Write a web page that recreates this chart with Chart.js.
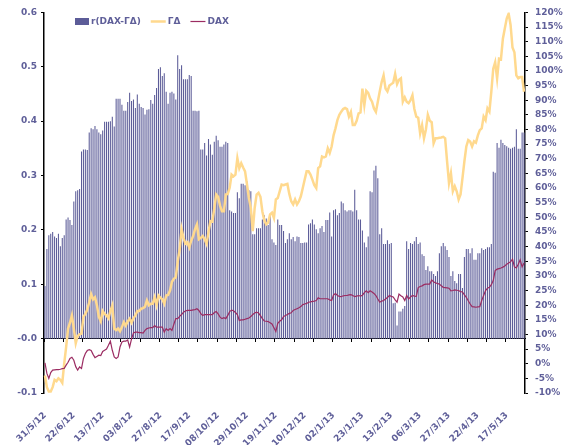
<!DOCTYPE html>
<html>
<head>
<meta charset="utf-8">
<script src="https://cdn.jsdelivr.net/npm/chart.js@4"></script>
<style>
  body { margin: 0; background: #fff; }
  #wrap { width: 569px; height: 445px; }
</style>
</head>
<body>
<div id="wrap"><canvas id="corrChart"></canvas></div>
<script>
// dates shown under the axis, one every 15 trading days
const tickLabels = ['31/5/12', '22/6/12', '13/7/12', '03/8/12', '27/8/12', '17/9/12', '08/10/12', '29/10/12',
    '19/11/12', '10/12/12', '02/1/13', '23/1/13', '13/2/13', '06/3/13', '27/3/13', '22/4/13', '17/5/13'];

// r(DAX-ΓΔ), left axis
const rBars = [
    0.097, 0.165, 0.19, 0.193, 0.196, 0.188, 0.185, 0.193, 0.17, 0.185, 0.19, 0.219, 0.223, 0.218, 0.209, 0.252,
    0.271, 0.273, 0.275, 0.344, 0.348, 0.348,
    0.347, 0.379, 0.387, 0.385, 0.391, 0.385, 0.379, 0.376, 0.383, 0.399, 0.399, 0.399, 0.4, 0.408, 0.39, 0.441,
    0.441, 0.441, 0.43, 0.419, 0.419, 0.435, 0.452, 0.437, 0.44, 0.424, 0.449, 0.432, 0.426, 0.424, 0.412, 0.421,
    0.422, 0.439, 0.432, 0.448, 0.461, 0.496, 0.499, 0.483, 0.488, 0.454, 0.432, 0.452, 0.454, 0.451, 0.44, 0.521,
    0.496, 0.503, 0.477, 0.477, 0.477, 0.485, 0.483, 0.419, 0.419, 0.418, 0.419,
    0.348, 0.348, 0.36, 0.337, 0.367, 0.357, 0.338, 0.362, 0.373, 0.365, 0.353, 0.353, 0.357, 0.362, 0.36,
    0.236, 0.234, 0.231, 0.231, 0.269, 0.258, 0.285, 0.285, 0.282, 0.289,
    0.273, 0.271, 0.192, 0.192, 0.203, 0.203, 0.203, 0.219, 0.227, 0.221,
    0.209, 0.227, 0.183, 0.177, 0.172, 0.219, 0.209, 0.209, 0.198, 0.176,
    0.183, 0.194, 0.183, 0.187, 0.179, 0.188, 0.187, 0.176, 0.176, 0.177,
    0.177, 0.21, 0.212, 0.219, 0.21, 0.201, 0.194, 0.203, 0.207, 0.196,
    0.218, 0.218, 0.232, 0.188, 0.236, 0.238, 0.227, 0.231, 0.252, 0.249,
    0.236, 0.234, 0.236, 0.236, 0.234, 0.274, 0.236, 0.219, 0.219, 0.199,
    0.177, 0.168, 0.188, 0.271, 0.269, 0.309, 0.318, 0.295,
    0.192, 0.203, 0.174, 0.174, 0.181, 0.174, 0.176,
    0.065, 0.066, 0.024, 0.05, 0.05, 0.055, 0.06,
    0.179, 0.165, 0.176, 0.174, 0.179, 0.187, 0.174, 0.177, 0.155, 0.152,
    0.126, 0.133, 0.124, 0.124, 0.119, 0.115, 0.124, 0.157, 0.17, 0.176,
    0.17, 0.163, 0.15, 0.115, 0.124, 0.106, 0.102, 0.119, 0.119, 0.093,
    0.15, 0.165, 0.165, 0.157, 0.166, 0.145, 0.145, 0.157, 0.157, 0.166,
    0.163, 0.165, 0.168, 0.168, 0.174,
    0.307, 0.305, 0.36, 0.351, 0.366, 0.36, 0.356, 0.354, 0.351, 0.349, 0.351, 0.353, 0.385, 0.349, 0.349, 0.379, 0.379
];

// ΓΔ in %, right axis
const gammaDelta = [
    -4, -8, -9.5, -9.5, -8, -5.5, -6, -5, -5.5, -6.5,
    0, 5.7, 12, 14, 16.5, 12, 7, 9.5, 10, 10.3,
    16, 17, 18.5, 21, 23.8, 22, 22.7, 20, 16, 14.5,
    18, 17, 16.5, 15.5, 18, 19.9, 12, 11.5, 12, 11.1,
    12.5, 14.2, 13, 14.5, 15.4, 14, 15.5, 16.5, 18, 18,
    18.8, 19, 19.5, 21.6, 20, 20.5,
    20.5, 22.7, 20, 23.3, 22.5, 22, 20.5, 23.3, 23.5, 25,
    28, 29, 29.5, 35, 39, 46, 43, 41, 41.5, 39.7,
    42, 43.6, 46, 47.6, 42.5, 43, 43.6, 42.5, 40.9, 45,
    48.7, 48.5, 53, 57.8, 57, 54, 52.1, 52.1, 57.8, 58,
    60.1, 64.6, 64, 64.6, 70.2, 66.8, 68.5, 67, 65.7, 61.2,
    56.6, 53.2, 45.3, 53.2, 57.8, 58.4, 57, 52, 49, 47.6,
    48.2, 51, 51.6, 49.8, 56.1, 56.6, 58.9, 61.2, 61, 61.2,
    61.4, 58, 55.5, 54.4, 56.1, 54.4, 55.5, 57.2, 60, 62.9,
    65.7, 65.7, 64.6, 62.9, 61, 60, 66.8, 67.4, 70.8, 70.5,
    70.8, 73.6, 72, 74.2, 78, 80.4, 83.2, 85, 86.1, 87,
    87.4, 87, 84.4, 86, 81.5, 81.5, 83, 85.5, 85.8, 94,
    88.3,
    93.2, 92.5, 90.6, 89.5, 87.2, 86, 89.5, 93, 96.2, 98.5,
    94, 93, 95, 95.5, 96, 99, 95.5, 97, 97.5, 89.5,
    91, 89.5, 89, 90, 91.7, 87, 84.4, 84, 78.7, 81.5,
    77, 80, 85, 83, 82.5, 75.3, 77, 77, 77.2, 77.3,
    77.5, 77, 69.1, 61.7, 65.1, 58.9, 60.6, 58.9, 56.1, 57.8,
    63.4, 69.1, 74.2, 76.4, 75.9, 74.2, 76, 75.5, 78, 79.8,
    80.4, 84.4, 83.2, 87.2, 86.1, 92.9, 100.8, 103, 97.4, 104.2,
    104, 111, 114.5, 117.9, 119.6, 115.7, 108, 106.4, 98.5, 97.5,
    97.9, 97.9, 92.9
];

// DAX in %, right axis
const dax = [
    0.3, -3.3, -5, -3, -2.2, -2.1, -2, -2, -1.9, -1.7,
    -1.6, -0.5, 0.5, 1.8, 2.2, 1.2, -1, -2.2, -1.1, -1.6,
    1.8, 3.5, 4.5, 4.8, 4.5, 3.2, 2.1, 2.5, 2.9, 2.8,
    4.2, 4.6, 5, 6.3, 7.7, 4.6, 2.3, 1.8, 2.3, 5.7,
    7.4, 7.7, 7.7, 8.1, 5.7, 8.5, 10.5, 10.8, 10.8, 10.6,
    10.6, 10.5, 11.4, 12, 12.2, 12.3,
    12.3, 13, 12.5, 12.5, 12.5, 12.5, 10.8, 12, 11.4, 12,
    11.4, 13.5, 15.4, 15.4, 16.2, 16.8, 17.6, 18, 18.2, 18.2,
    18.2, 18.4, 18.5, 18.8, 18.2, 17.1, 16.5, 16.8, 16.8, 16.8,
    16.8, 16.8, 17.5, 17.8, 17, 15.9, 15.4, 15.7, 15.4, 16.5,
    17.8, 18.3, 18.1, 17.5, 16.8, 14.8, 15, 15, 15.2, 15.4,
    15.6, 16.1, 16.8, 17.3, 17.6, 17.3, 16.4, 15.4, 14.6, 14.5,
    14.4, 14, 13.6, 12.3, 11, 13.8, 14.5, 15, 16.1, 16.5,
    16.8, 17.2, 17.4, 18.2, 18.5, 18.8, 19.1, 19.5, 20.2, 20.4,
    20.6, 21, 21.1, 21.3, 21.4, 21.6, 22.5, 22.2, 22.2, 22.2,
    22.2, 22.2, 21.8, 21.6, 23.5, 24, 23.3, 23, 22.9, 23.2,
    23.3, 23.3, 23.5, 23.6, 23.3, 22.9, 23.1, 23.3, 23.1, 23.4,
    24.3,
    24.9, 24.3, 24.9, 24.5, 24, 23.3, 22.1, 21, 21.4, 21.6,
    22.1, 22.6, 23.3, 23, 22.8, 21.8, 21, 23.8, 23.2, 22.8,
    21.6, 23.3, 22.1, 22.8, 23.3, 23.1, 23, 26, 26.4, 26.6,
    27, 27.2, 27.2, 27.2, 28.6, 28, 27.6, 27.4, 27.2, 26.6,
    26.1, 26, 25.9, 25.8, 24.9, 25, 25.2, 25.1, 25, 24.6,
    24.5, 23.5, 22.7, 21.5, 20.4, 19.5, 19.4, 19.3, 19.4, 19.5,
    21.6, 23.3, 25, 25.8, 26.1, 27, 28.4, 31.8, 32.3, 32.5,
    32.7, 33, 33.4, 34, 34.4, 34.8, 35.7, 33.1, 32.7, 34,
    35.5, 33.1, 34.4
];

const categories = rBars.map((v, i) => (i % 15 === 0 ? tickLabels[i / 15] : ''));

const textColor = '#5f5f99';
const barColor = '#5c5c98';
const gdColor = '#ffd98e';
const daxColor = '#9b2c62';
const labelFont = { family: '"DejaVu Sans"', size: 9, weight: 'bold' };

Chart.defaults.font.family = '"DejaVu Sans"';
Chart.defaults.color = textColor;

// legend sits inside the plot, top left, like the original
const topLegend = {
    id: 'topLegend',
    afterDraw(chart) {
        const ctx = chart.ctx;
        const y = 21.5;
        let x = 75;
        ctx.save();
        ctx.font = 'bold 9px "DejaVu Sans"';
        ctx.textBaseline = 'middle';
        chart.data.datasets.forEach(ds => {
            if (ds.type === 'line') {
                ctx.strokeStyle = ds.borderColor;
                ctx.lineWidth = ds.borderWidth;
                ctx.beginPath();
                ctx.moveTo(x, y);
                ctx.lineTo(x + 15, y);
                ctx.stroke();
                x += 17;
            } else {
                ctx.fillStyle = ds.backgroundColor;
                ctx.fillRect(x, y - 3.5, 14, 7);
                x += 16;
            }
            ctx.fillStyle = textColor;
            ctx.fillText(ds.label, x, y);
            x += ctx.measureText(ds.label).width + 10;
        });
        ctx.restore();
    }
};

const ctx = document.getElementById('corrChart').getContext('2d');
const corrChart = new Chart(ctx, {
    type: 'bar',
    data: {
        labels: categories,
        datasets: [{
            label: 'r(DAX-ΓΔ)',
            data: rBars,
            backgroundColor: barColor,
            barPercentage: 0.55,
            categoryPercentage: 1,
            yAxisID: 'y',
            order: 3
        }, {
            type: 'line',
            label: 'ΓΔ',
            data: gammaDelta,
            borderColor: gdColor,
            borderWidth: 2.5,
            pointRadius: 0,
            tension: 0,
            yAxisID: 'y1',
            order: 2
        }, {
            type: 'line',
            label: 'DAX',
            data: dax,
            borderColor: daxColor,
            borderWidth: 1.2,
            pointRadius: 0,
            tension: 0,
            yAxisID: 'y1',
            order: 1
        }]
    },
    options: {
        responsive: true,
        maintainAspectRatio: false,
        animation: false,
        layout: { padding: { top: 10 } },
        plugins: {
            legend: { display: false },
            tooltip: { enabled: false }
        },
        scales: {
            x: {
                type: 'category',
                offset: true,
                grid: { display: false, drawTicks: false },
                border: { display: false },
                ticks: {
                    autoSkip: false,
                    minRotation: 45,
                    maxRotation: 45,
                    padding: 17,
                    font: labelFont,
                    color: textColor
                },
                afterFit: s => { s.height = 52; }
            },
            // the axis line itself crosses at r = 0, with a tick every 10 days
            x0: {
                type: 'category',
                labels: categories,
                position: { y: 0 },
                offset: true,
                z: 1,
                grid: {
                    offset: true,
                    drawOnChartArea: false,
                    tickLength: 3,
                    tickColor: c => (c.index % 10 === 0 ? '#000' : 'rgba(0,0,0,0)')
                },
                border: { color: '#000', width: 1 },
                ticks: { display: false }
            },
            y: {
                position: 'left',
                min: -0.1,
                max: 0.6,
                grid: { drawOnChartArea: false, tickLength: 3, tickColor: '#000' },
                border: { color: '#000', width: 1.5 },
                ticks: {
                    stepSize: 0.1,
                    padding: 4,
                    font: labelFont,
                    color: textColor,
                    callback: v => v.toFixed(1)
                },
                afterFit: s => { s.width = 44; }
            },
            y1: {
                position: 'right',
                min: -10,
                max: 120,
                grid: { drawOnChartArea: false, tickLength: 3, tickColor: '#000' },
                border: { color: '#000', width: 1.5 },
                ticks: {
                    stepSize: 5,
                    autoSkip: false,
                    padding: 7,
                    font: labelFont,
                    color: textColor,
                    callback: v => v + '%'
                },
                afterFit: s => { s.width = 44; }
            }
        }
    },
    plugins: [topLegend]
});
</script>
</body>
</html>
